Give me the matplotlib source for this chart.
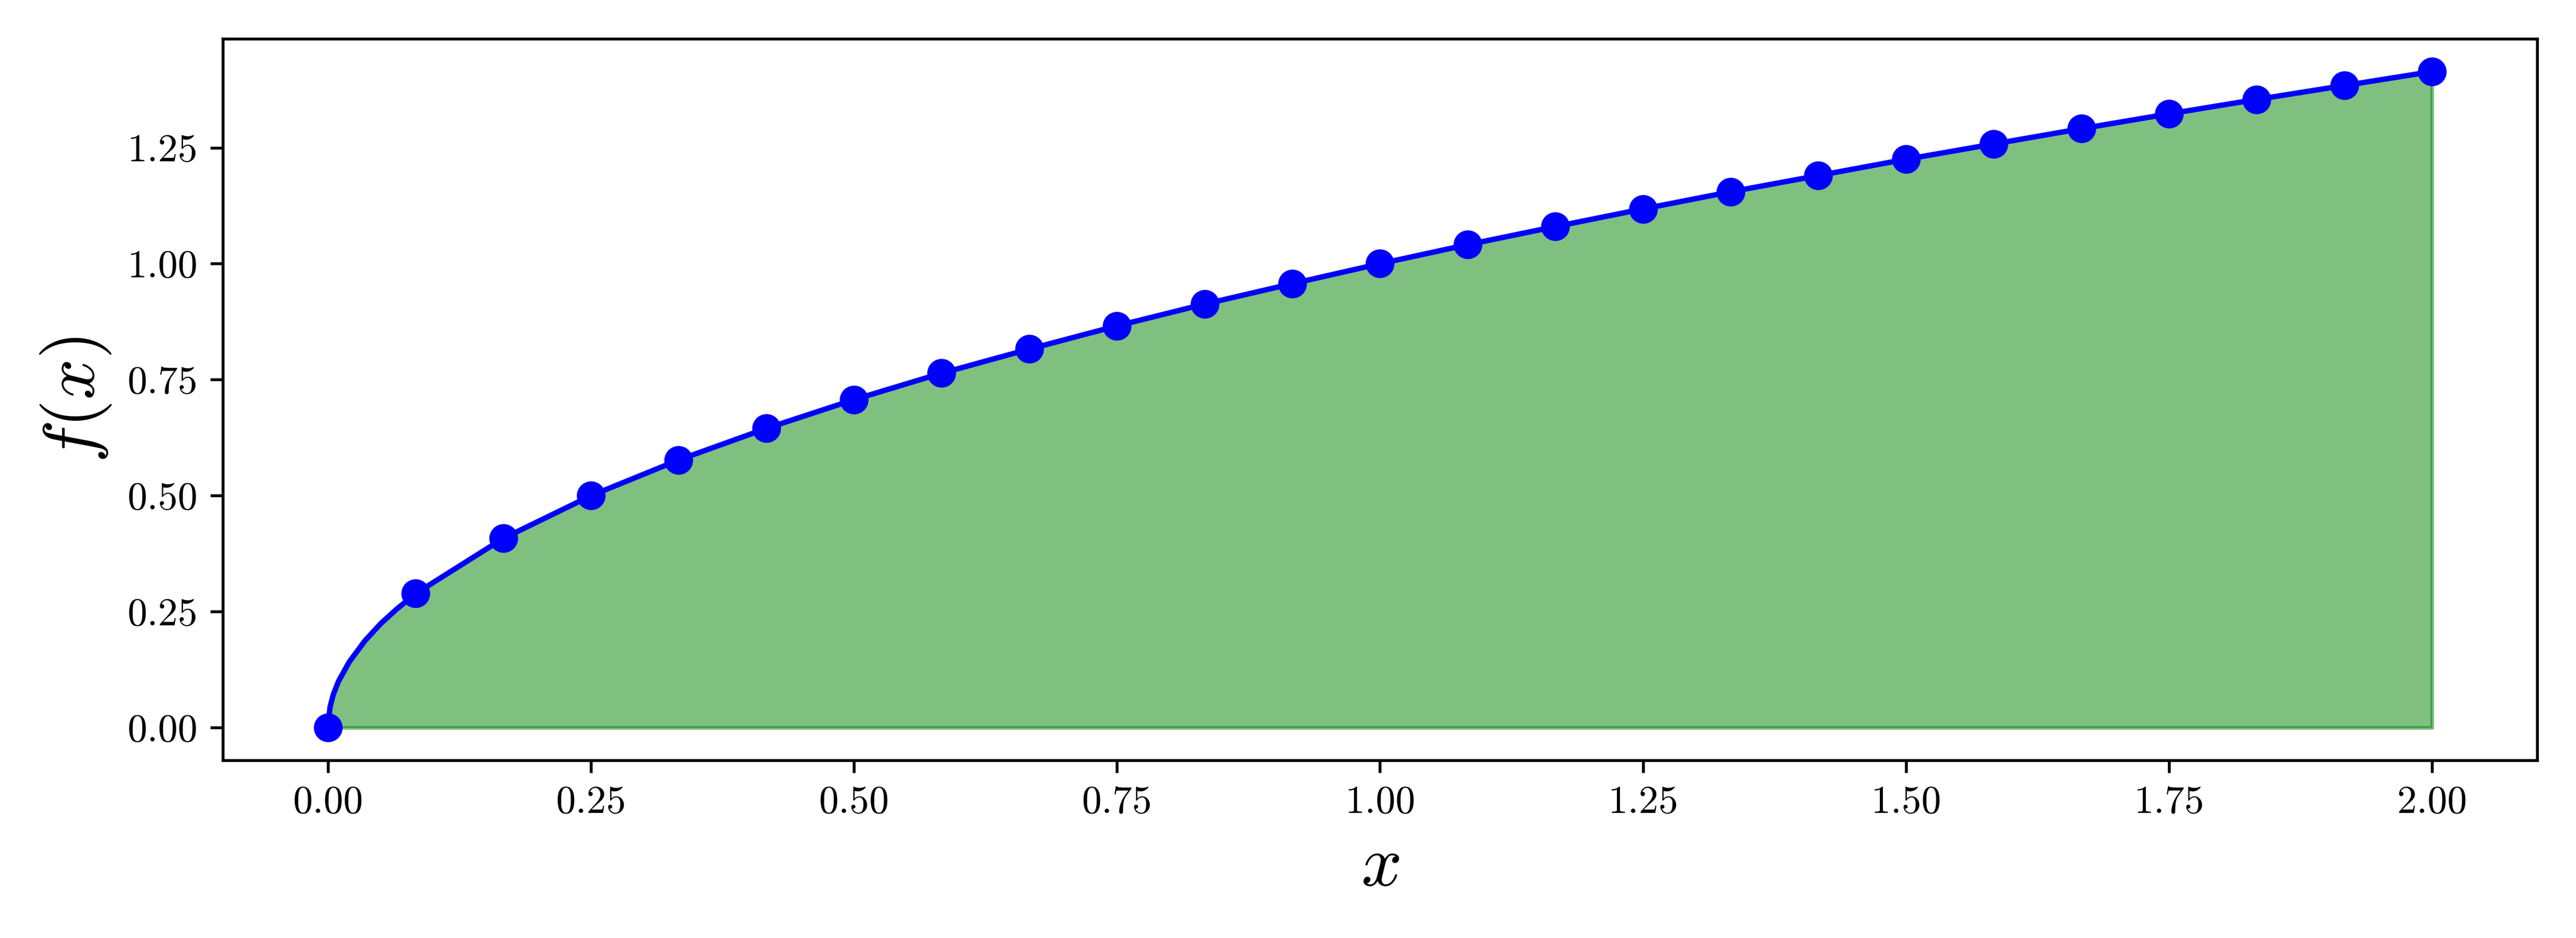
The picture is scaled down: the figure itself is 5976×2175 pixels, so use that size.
import matplotlib
matplotlib.use("Agg")
import matplotlib.pyplot as plt

plt.rcParams['font.family'] = 'serif'
plt.rcParams['font.serif'] = ['cmr10']
plt.rcParams['mathtext.fontset'] = 'cm'
plt.rcParams['axes.formatter.use_mathtext'] = True

marker_x = [0.0, 0.0833, 0.1667, 0.25, 0.3333, 0.4167, 0.5, 0.5833, 0.6667, 0.75,
            0.8333, 0.9167, 1.0, 1.0833, 1.1667, 1.25, 1.3333, 1.4167, 1.5, 1.5833,
            1.6667, 1.75, 1.8333, 1.9167, 2.0]
marker_y = [0.0, 0.289, 0.408, 0.5, 0.577, 0.645, 0.707, 0.764, 0.816, 0.866,
            0.913, 0.957, 1.0, 1.041, 1.080, 1.118, 1.155, 1.190, 1.225, 1.258,
            1.291, 1.323, 1.354, 1.384, 1.414]
near0_x = [0.002, 0.005, 0.01, 0.02, 0.035, 0.05, 0.065]
near0_y = [0.045, 0.071, 0.100, 0.141, 0.187, 0.224, 0.255]

curve = sorted(zip(marker_x + near0_x, marker_y + near0_y))
cx = [p[0] for p in curve]
cy = [p[1] for p in curve]

fig, ax = plt.subplots(figsize=(9.96, 3.625), dpi=600)
ax.fill_between(cx, cy, 0, color='green', alpha=0.5)
ax.plot(cx, cy, color='blue', lw=1.5)
ax.plot(marker_x, marker_y, 'o', color='blue', ms=7)
ax.set_xlabel(r'$x$', fontsize=20)
ax.set_ylabel(r'$f(x)$', fontsize=20)
ax.set_xticks([0, 0.25, 0.5, 0.75, 1.0, 1.25, 1.5, 1.75, 2.0])
ax.set_xticklabels(['0.00', '0.25', '0.50', '0.75', '1.00', '1.25', '1.50', '1.75', '2.00'])
ax.set_yticks([0, 0.25, 0.5, 0.75, 1.0, 1.25])
ax.set_yticklabels(['0.00', '0.25', '0.50', '0.75', '1.00', '1.25'])
ax.tick_params(labelsize=11)
fig.tight_layout()
fig.savefig('out.png', dpi=600)
